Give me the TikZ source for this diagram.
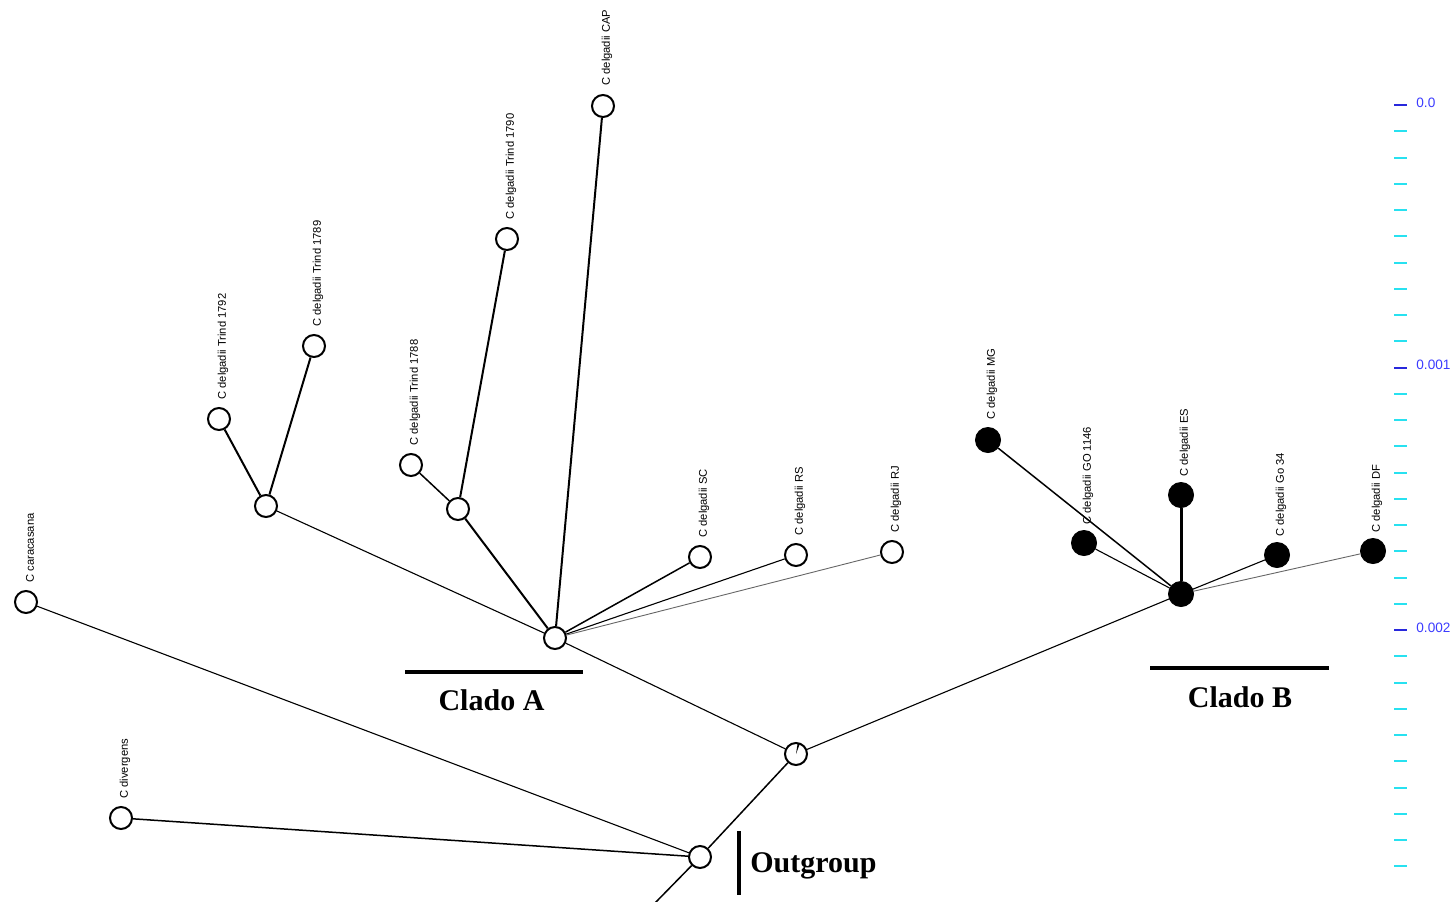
\documentclass[tikz,border=0pt]{standalone}
\usepackage{fontspec}
\setmainfont{Liberation Serif}
\newfontfamily\labfont{Liberation Sans}
\definecolor{scaleblue}{RGB}{40,40,220}
\definecolor{scaletxt}{RGB}{60,60,255}
\definecolor{scalecyan}{RGB}{40,225,240}
\begin{document}
\begin{tikzpicture}[x=0.5pt,y=-0.5pt,
  tip/.style={circle,draw=black,line width=1pt,fill=white,minimum size=11pt,inner sep=0pt},
  blk/.style={circle,fill=black,draw=black,line width=0.5pt,minimum size=12.5pt,inner sep=0pt},
  hub/.style={circle,draw=black,line width=1pt,fill=white,minimum size=11pt,inner sep=0pt},
  lab/.style={rotate=90,anchor=west,inner sep=0pt,font=\labfont\fontsize{5.6}{6.5}\selectfont},
  clade/.style={inner sep=0pt,font=\fontsize{15}{18}\selectfont\bfseries},
  bar/.style={line width=2pt},
  e1/.style={line width=1pt},
  e2/.style={line width=0.75pt},
  e3/.style={line width=0.55pt},
  e4/.style={line width=0.45pt,black!60},
  e5/.style={line width=1.5pt},
  tick/.style={line width=1pt}]
\useasboundingbox (0,0) rectangle (1452,901);
% tips (Clado A)
\node[tip] (CAP) at (603,106) {};
\node[tip] (T1790) at (507,239) {};
\node[tip] (T1789) at (314,346) {};
\node[tip] (T1792) at (219,419) {};
\node[tip] (T1788) at (411,465) {};
\node[tip] (SC) at (700,557) {};
\node[tip] (RS) at (796,555) {};
\node[tip] (RJ) at (892,552) {};
% internal
\node[hub] (n1) at (266,506) {};
\node[hub] (n2) at (458,509) {};
\node[hub] (hubA) at (555,638) {};
\node[hub] (n3) at (796,754) {};
\node[hub] (out) at (700,857) {};
\node[blk] (hubB) at (1181,594) {};
% outgroup
\node[tip] (car) at (26,602) {};
\node[tip] (div) at (121,818) {};
% Clado B tips
\node[blk] (MG) at (988,440) {};
\node[blk] (GO) at (1084,543) {};
\node[blk] (ES) at (1181,495) {};
\node[blk] (Go34) at (1277,555) {};
\node[blk] (DF) at (1373,551) {};
\coordinate (down) at (655,903);
% edges
\draw[e1] (CAP) -- (hubA);
\draw[e1] (T1790) -- (n2);
\draw[e1] (n2) -- (hubA);
\draw[e2] (T1788) -- (n2);
\draw[e1] (T1792) -- (n1);
\draw[e1] (T1789) -- (n1);
\draw[e3] (n1) -- (hubA);
\draw[e2] (hubA) -- (SC);
\draw[e3] (hubA) -- (RS);
\draw[e4] (hubA) -- (RJ);
\draw[e3] (hubA) -- (n3);
\draw[e2] (n3) -- (out);
\draw[e3] (n3) -- (hubB);
\draw[e3] (car) -- (out);
\draw[e2] (div) -- (out);
\draw[e2] (out) -- (down);
\draw[e2] (hubB) -- (MG);
\draw[e3] (hubB) -- (GO);
\draw[e5] (hubB) -- (ES);
\draw[e3] (hubB) -- (Go34);
\draw[e4] (hubB) -- (DF);
% pie slice
\fill[black] (n3.center) -- (797.6,743.4) -- (799.8,743.9) -- cycle;
% labels
\node[lab] (lCAP) at (607,86) {C delgadii CAP};
\node[lab] (l1790) at (511,220) {C delgadii Trind 1790};
\node[lab] (l1789) at (318,327) {C delgadii Trind 1789};
\node[lab] (l1792) at (223,400) {C delgadii Trind 1792};
\node[lab] (l1788) at (415,446) {C delgadii Trind 1788};
\node[lab] (lSC) at (704,538) {C delgadii SC};
\node[lab] (lRS) at (800,536) {C delgadii RS};
\node[lab] (lRJ) at (896,533) {C delgadii RJ};
\node[lab] (lcar) at (30,583) {C caracasana};
\node[lab] (ldiv) at (125,799) {C divergens};
\node[lab] (lMG) at (992,420) {C delgadii MG};
\node[lab] (lGO) at (1088,525) {C delgadii GO 1146};
\node[lab] (lES) at (1185,477) {C delgadii ES};
\node[lab] (lGo34) at (1281,537) {C delgadii Go 34};
\node[lab] (lDF) at (1377,533) {C delgadii DF};
% clade bars
\draw[bar] (405,672) -- (583,672);
\node[clade,anchor=base] (cA) at (491.5,710) {Clado A};
\draw[bar] (1150,668) -- (1329,668);
\node[clade,anchor=base] (cB) at (1240,707) {Clado B};
\draw[bar] (739,831) -- (739,895);
\node[clade,anchor=base west] (cO) at (750,872) {Outgroup};
% scale
\foreach \k in {0,...,29}{
  \draw[scalecyan,tick] (1394,{105+26.25*\k}) -- (1407,{105+26.25*\k});
}
\foreach \k/\t in {0/0.0,10/0.001,20/0.002}{
  \draw[scaleblue,tick] (1394,{105+26.25*\k}) -- (1407,{105+26.25*\k});
  \node[anchor=base west,inner sep=0pt,text=scaletxt,font=\labfont\fontsize{6.8}{8}\selectfont] at (1416,{107+26.25*\k}) {\t};
}
\end{tikzpicture}
\end{document}
